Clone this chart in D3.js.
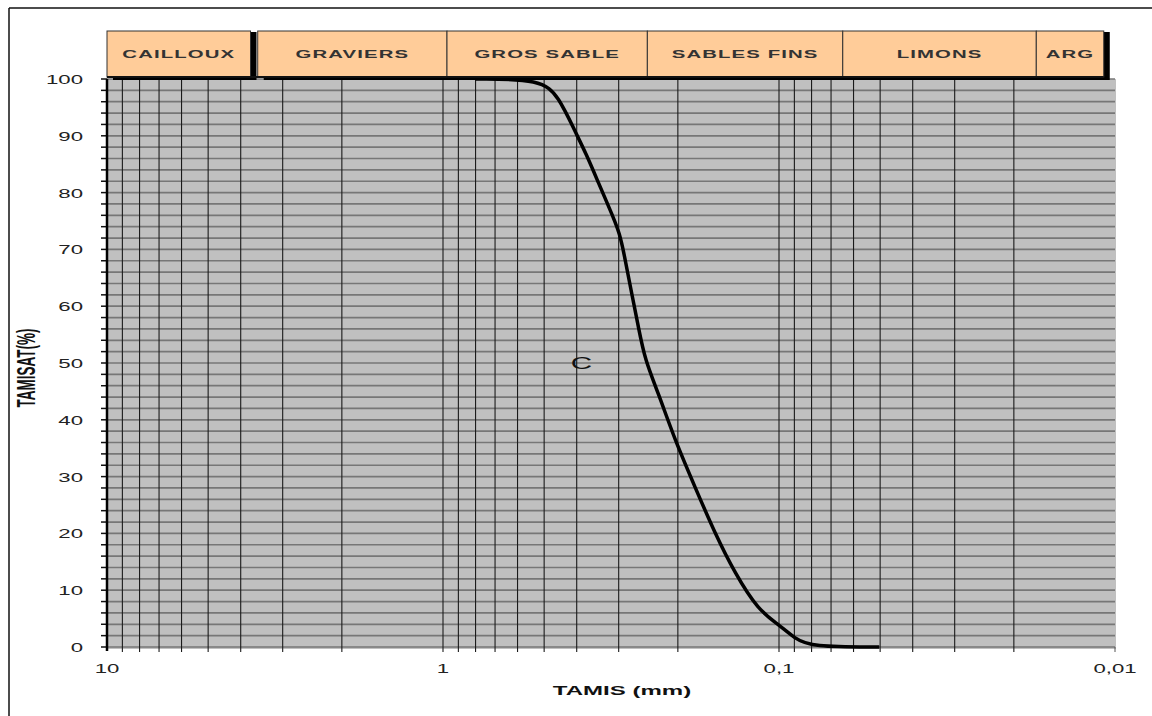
<!DOCTYPE html>
<html>
<head>
<meta charset="utf-8">
<script src="https://cdn.jsdelivr.net/npm/d3@7"></script>
<style>
  html, body { margin: 0; padding: 0; background: #fff; }
  svg { display: block; }
  text { font-family: "Liberation Sans", Arial, sans-serif; }
</style>
</head>
<body>
<svg id="chart" width="1152" height="716"></svg>
<script>
// ---- data ----
const sieveMm = [0.8, 0.51, 0.453, 0.404, 0.3754, 0.3439, 0.3211, 0.297, 0.2869, 0.2745, 0.2622, 0.2505, 0.2286, 0.204, 0.1779, 0.1551, 0.1353, 0.1154, 0.1, 0.0898, 0.0802, 0.0503];
const passingPct = [100, 100, 96.9, 90.7, 86.9, 81.6, 77.5, 72.8, 68.1, 62.3, 56.4, 50.5, 44.7, 36.4, 28.2, 20.0, 13.0, 6.5, 3.9, 1.5, 0, 0];
const classNames = ["CAILLOUX", "GRAVIERS", "GROS SABLE", "SABLES FINS", "LIMONS", "ARG"];
const classFrom = [10, 3.56, 0.973, 0.2465, 0.0646, 0.01715];
const classTo = [3.74, 0.973, 0.2465, 0.0646, 0.01715, 0.0108];
const classGroup = [0, 1, 1, 1, 1, 1];
const xTickValues = [10, 1, 0.1, 0.01];
const xTickLabels = ["10", "1", "0,1", "0,01"];
const yTickValues = [0, 10, 20, 30, 40, 50, 60, 70, 80, 90, 100];
const curveLabel = { text: "C", mm: 0.387, pct: 50 };

// ---- layout ----
const SX = 1.85; // horizontal stretch of the original picture
const svg = d3.select("#chart");
const x = d3.scaleLog().domain([10, 0.01]).range([107, 1115]);
const y = d3.scaleLinear().domain([0, 100]).range([647, 79]);
const [x0, x1] = x.range();
const [yb, yt] = y.range();

function stretchedText(g, px, py, str, opts) {
  const t = g.append("text")
    .attr("transform", `translate(${px},${py}) scale(${SX},1)` + (opts.rotate ? " rotate(-90)" : ""))
    .attr("text-anchor", opts.anchor || "middle")
    .attr("font-size", opts.size)
    .attr("font-weight", opts.weight || "normal")
    .attr("fill", opts.fill || "#222")
    .text(str);
  if (opts.spacing) t.attr("letter-spacing", opts.spacing);
  return t;
}

// outer frame (top and left edges visible)
svg.append("line").attr("x1", 9).attr("x2", 1152).attr("y1", 8).attr("y2", 8).attr("stroke", "#111").attr("stroke-width", 1.5);
svg.append("line").attr("x1", 9).attr("x2", 9).attr("y1", 8).attr("y2", 716).attr("stroke", "#111").attr("stroke-width", 1.5);

// plot background
svg.append("rect").attr("x", x0).attr("y", yt).attr("width", x1 - x0 + 1).attr("height", yb - yt + 2).attr("fill", "#c0c0c0");

// horizontal grid every 2 %
const hVals = d3.range(0, 101, 2);
svg.append("g").selectAll("line").data(hVals).join("line")
  .attr("x1", x0).attr("x2", x1)
  .attr("y1", d => y(d)).attr("y2", d => y(d))
  .attr("stroke", "#777").attr("stroke-width", 1.7);

// vertical grid on log ticks
const vVals = x.ticks().filter(v => v < 10 && v > 0.01 + 1e-9);
svg.append("g").selectAll("line").data(vVals).join("line")
  .attr("x1", d => x(d)).attr("x2", d => x(d))
  .attr("y1", yt).attr("y2", yb + 5)
  .attr("stroke", "#1a1a1a").attr("stroke-width", 1.1);
svg.append("line").attr("x1", x(0.01)).attr("x2", x(0.01)).attr("y1", yb).attr("y2", yb + 5).attr("stroke", "#555").attr("stroke-width", 1);

// y axis line + ticks every 2
svg.append("g").selectAll("line").data(hVals).join("line")
  .attr("x1", x0 - 6).attr("x2", x0)
  .attr("y1", d => y(d)).attr("y2", d => y(d))
  .attr("stroke", "#111").attr("stroke-width", 1.5);
svg.append("line").attr("x1", x0).attr("x2", x0).attr("y1", yt).attr("y2", yb + 4).attr("stroke", "#000").attr("stroke-width", 2.5);

// y tick labels
const gy = svg.append("g");
yTickValues.forEach(v => stretchedText(gy, 83, y(v) + 5, String(v), { anchor: "end", size: 12, fill: "#222" }));

// x tick labels
const gx = svg.append("g");
xTickValues.forEach((v, i) => stretchedText(gx, x(v), 673, xTickLabels[i], { size: 12, fill: "#222" }));

// axis titles
stretchedText(svg, 622, 695, "TAMIS (mm)", { size: 13, weight: "bold", fill: "#111" });
stretchedText(svg, 35, 368, "TAMISAT(%)", { size: 13.5, weight: "bold", fill: "#111", rotate: true });

// the grading curve
const pts = sieveMm.map((m, i) => [x(m), y(passingPct[i])]).sort((a, b) => a[0] - b[0]);
svg.append("path")
  .attr("d", d3.line().curve(d3.curveBasis)(pts))
  .attr("fill", "none").attr("stroke", "#000").attr("stroke-width", 3.5).attr("stroke-linejoin", "round");

stretchedText(svg, x(curveLabel.mm), y(curveLabel.pct) + 6, curveLabel.text, { size: 16, fill: "#111" });

// class header boxes
const boxTop = 31, boxBot = 77;
const gb = svg.append("g");
const groups = d3.groups(classNames.map((n, i) => ({ n, i, g: classGroup[i] })), d => d.g);
groups.forEach(([g, items]) => {
  const a = x(classFrom[items[0].i]);
  const b = x(classTo[items[items.length - 1].i]);
  gb.append("rect").attr("x", a + 6).attr("y", boxTop + 1).attr("width", b - a).attr("height", boxBot - boxTop + 2).attr("fill", "#000");
});
classNames.forEach((n, i) => {
  const a = x(classFrom[i]), b = x(classTo[i]);
  gb.append("rect").attr("x", a).attr("y", boxTop).attr("width", b - a).attr("height", boxBot - boxTop)
    .attr("fill", "#ffcc99").attr("stroke", "#333").attr("stroke-width", 1);
  stretchedText(gb, (a + b) / 2, (boxTop + boxBot) / 2 + 4, n, { size: 11, weight: "bold", fill: "#333", spacing: 0.6 });
});
gb.append("line").attr("x1", x0).attr("x2", x(classTo[5])).attr("y1", boxBot).attr("y2", boxBot).attr("stroke", "#111").attr("stroke-width", 2);
</script>
</body>
</html>
